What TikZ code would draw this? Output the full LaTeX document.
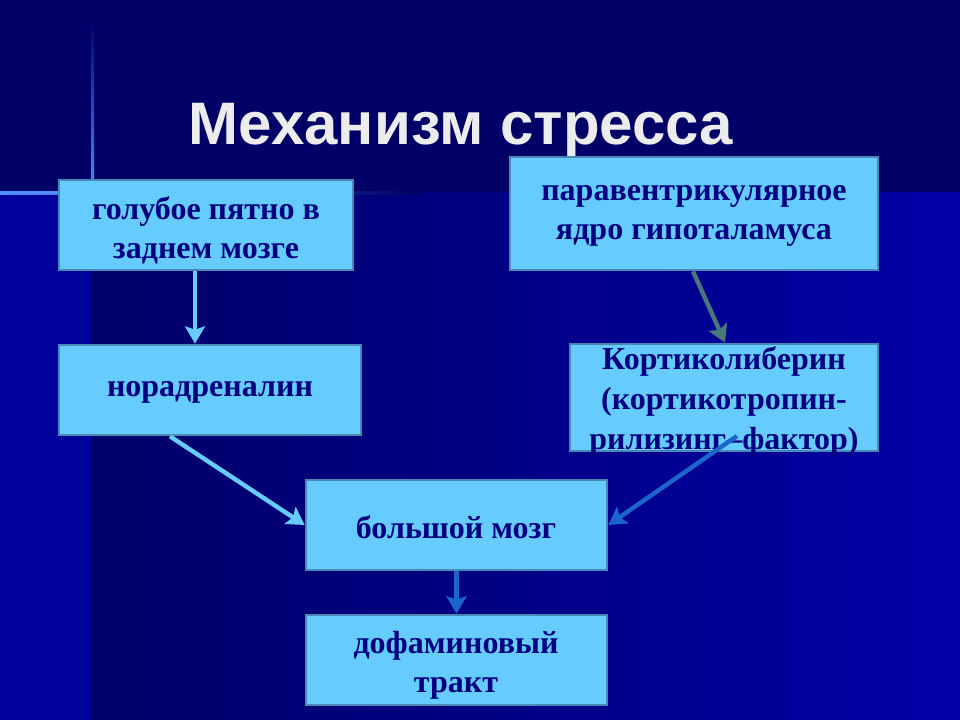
\documentclass[tikz,border=0pt]{standalone}
\usepackage{fontspec}
\setmainfont{Liberation Serif}
\newfontfamily\titlefont{Liberation Sans}
\usetikzlibrary{arrows.meta,fit}
\definecolor{topbg}{HTML}{000066}
\definecolor{leftbg}{HTML}{00009A}
\definecolor{mainL}{HTML}{000068}
\definecolor{mainR}{HTML}{0000A6}
\definecolor{glow}{HTML}{4F8FFF}
\definecolor{boxfill}{HTML}{66CCFF}
\definecolor{boxedge}{HTML}{4A88B8}
\definecolor{navytext}{HTML}{000080}
\definecolor{arrlightc}{HTML}{66CCFF}
\definecolor{arrgrayc}{HTML}{4A7878}
\definecolor{arrbluec}{HTML}{1A66CC}
\definecolor{titlec}{HTML}{ECECEC}
\begin{document}
\begin{tikzpicture}[x=0.75pt,y=-0.75pt,
  box/.style={draw=boxedge, line width=2pt, fill=boxfill, inner sep=0pt},
  txt/.style={text=navytext, font=\bfseries\fontsize{24}{29}\selectfont, align=center, inner sep=0pt},
  arrbase/.style={line width=3.3pt, -{Stealth[length=13pt,width=15pt,inset=2.5pt]}},
  arrlight/.style={arrbase, draw=arrlightc},
  arrgray/.style={arrbase, draw=arrgrayc},
  arrblue/.style={arrbase, draw=arrbluec}]
% background
\fill[topbg] (0,0) rectangle (960,720);
\useasboundingbox (0,0) rectangle (960,720);
\fill[leftbg] (0,193) rectangle (92,720);
\shade[left color=mainL, right color=mainR] (92,193) rectangle (960,720);
\shade[top color=topbg, bottom color=glow] (91,20) rectangle (94,193);
\shade[left color=glow, right color=topbg] (0,191.5) rectangle (420,194.5);
\fill[glow] (0,191.5) rectangle (92,194.5);
% title
\node[anchor=base, text=titlec, font=\titlefont\bfseries\fontsize{45}{50}\selectfont, inner sep=0pt] (title) at (461,145) {Механизм стресса};
% boxes
\node[box, fit={(59,180)(353,270)}] (b1) {};
\node[box, fit={(510,157)(878,270)}] (b2) {};
\node[box, fit={(59,345)(361,435)}] (b3) {};
\node[box, fit={(570,344)(878,451)}] (b4) {};
\node[box, fit={(306,480)(607,570)}] (b5) {};
\node[box, fit={(306,615)(607,705)}] (b6) {};
% texts
\node[txt] (t1) at (206,230) {голубое пятно в\\заднем мозге};
\node[txt] (t2) at (694,216) {паравентрикулярное\\ядро гипоталамуса};
\node[txt] (t3) at (210,392) {норадреналин};
\node[txt, font=\bfseries\fontsize{24}{30}\selectfont] (t4) at (724,401) {Кортиколиберин\\(кортикотропин-\\рилизинг–фактор)};
\node[txt] (t5) at (456,527) {большой мозг};
\node[txt] (t6) at (456,665) {дофаминовый\\тракт};
% connector helpers
\coordinate (c1) at (195,0);
\coordinate (c2) at (170,0);
\coordinate (c3s) at (693,0);
\coordinate (c3e) at (725,0);
\coordinate (c4) at (737,436);
% connectors
\draw[arrlight] (b1.south -| c1) -- (b3.north -| c1);
\draw[arrlight] (b3.south -| c2) -- (b5.west);
\draw[arrgray] (b2.south -| c3s) -- (b4.north -| c3e);
\draw[arrblue] (c4) -- (b5.east);
\draw[arrblue] (b5.south) -- (b6.north);
\end{tikzpicture}
\end{document}
